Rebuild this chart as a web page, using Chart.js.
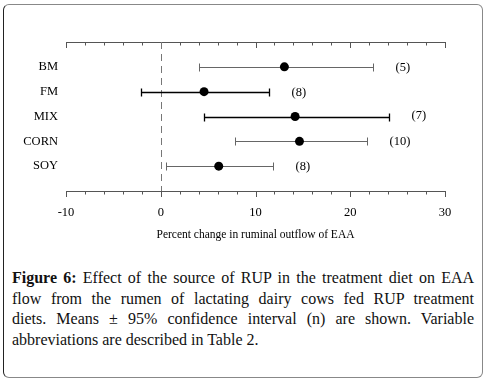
<!DOCTYPE html>
<html>
<head>
<meta charset="utf-8">
<script src="https://cdn.jsdelivr.net/npm/chart.js@4.4.1/dist/chart.umd.min.js"></script>
<style>
  html, body { margin: 0; padding: 0; background: #fff; }
  body { width: 487px; height: 381px; position: relative; overflow: hidden; }
  #frame {
    position: absolute; left: 3px; top: 4px; width: 478px; height: 372px;
    border: 1px solid #888; border-left-color: #222; border-radius: 6px;
    z-index: 5; pointer-events: none;
  }
  #wrap { position: absolute; left: 0; top: 0; width: 487px; height: 250px; }
  #caption {
    position: absolute; left: 12px; top: 268px; width: 462px;
    font-family: "Liberation Serif", "DejaVu Serif", serif;
    font-size: 16px; line-height: 20.5px; color: #111;
  }
  #caption div { text-align: justify; text-align-last: justify; }
  #caption div.last { text-align-last: left; }
</style>
</head>
<body>
<div id="frame"></div>
<div id="wrap"><canvas id="chart_ruminalOutflow"></canvas></div>
<div id="caption">
  <div><b>Figure 6:</b> Effect of the source of RUP in the treatment diet on EAA</div>
  <div>flow from the rumen of lactating dairy cows fed RUP treatment</div>
  <div>diets. Means ± 95% confidence interval (n) are shown. Variable</div>
  <div class="last">abbreviations are described in Table 2.</div>
</div>
<script>
// RUP sources, top to bottom
var categories = ['BM', 'FM', 'MIX', 'CORN', 'SOY'];
var means = [13.05, 4.57, 14.18, 14.64, 6.12];
var lower = [4.08, -2.1, 4.57, 7.85, 0.56];
var upper = [22.35, 11.47, 24.14, 21.75, 11.83];
var counts = [5, 8, 7, 10, 8];
var xTicks = [-10, 0, 10, 20, 30];
var barColors = ['#666', '#000', '#000', '#666', '#666'];

var serif = '"Liberation Serif", "Times New Roman", serif';

var points = means.map(function(m, i) { return {x: m, y: i + 1}; });

var chart_ruminalOutflow = new Chart(document.getElementById('chart_ruminalOutflow'), {
    type: 'scatter',
    data: {
        datasets: [
            {
                label: 'Mean',
                data: points,
                pointRadius: 4.5,
                pointHoverRadius: 4.5,
                pointBackgroundColor: '#000',
                pointBorderColor: '#000',
                borderWidth: 0
            }
        ]
    },
    options: {
        animation: false,
        responsive: true,
        maintainAspectRatio: false,
        layout: {
            padding: {top: 42, right: 42, left: 0, bottom: 0}
        },
        plugins: {
            legend: {display: false},
            tooltip: {enabled: false}
        },
        scales: {
            x: {
                type: 'linear',
                min: -10,
                max: 30,
                afterFit: function(scale) { scale.height = 59; },
                grid: {display: false, drawTicks: false},
                border: {display: false},
                ticks: {
                    stepSize: 10,
                    padding: 14,
                    maxRotation: 0,
                    autoSkip: false,
                    color: '#000',
                    font: {family: serif, size: 12.5},
                    callback: function(value) {
                        return xTicks.indexOf(value) >= 0 ? String(value) : '';
                    }
                },
                title: {
                    display: true,
                    text: 'Percent change in ruminal outflow of EAA',
                    color: '#000',
                    font: {family: serif, size: 11.5},
                    padding: {top: 0, bottom: 8}
                }
            },
            y: {
                type: 'linear',
                min: 0,
                max: 6,
                reverse: true,
                afterFit: function(scale) { scale.width = 66; },
                grid: {display: false, drawTicks: false},
                border: {display: false},
                ticks: {
                    stepSize: 1,
                    padding: 8,
                    color: '#000',
                    font: {family: serif, size: 12.5},
                    callback: function(value) {
                        return categories[value - 1] || '';
                    }
                }
            }
        }
    },
    plugins: [{
        id: 'forestFrame',
        beforeDatasetsDraw: function(chart) {
            var ctx = chart.ctx;
            var xs = chart.scales.x, ys = chart.scales.y;
            var area = chart.chartArea;
            ctx.save();
            // axis lines top and bottom
            ctx.strokeStyle = '#555';
            ctx.lineWidth = 1;
            [area.top, area.bottom].forEach(function(yy) {
                ctx.beginPath();
                ctx.moveTo(area.left, Math.round(yy) + 0.5);
                ctx.lineTo(area.right, Math.round(yy) + 0.5);
                ctx.stroke();
            });
            // tick marks every 2 units, longer at labelled values
            for (var v = -10; v <= 30; v += 2) {
                var px = Math.round(xs.getPixelForValue(v)) + 0.5;
                var len = (v % 10 === 0) ? 6 : 3.5;
                ctx.beginPath();
                ctx.moveTo(px, Math.round(area.top));
                ctx.lineTo(px, Math.round(area.top) + len);
                ctx.moveTo(px, Math.round(area.bottom));
                ctx.lineTo(px, Math.round(area.bottom) + len);
                ctx.stroke();
            }
            // dashed zero line
            var zx = Math.round(xs.getPixelForValue(0)) + 0.5;
            ctx.strokeStyle = '#777';
            ctx.setLineDash([7, 5]);
            ctx.beginPath();
            ctx.moveTo(zx, area.top);
            ctx.lineTo(zx, area.bottom);
            ctx.stroke();
            ctx.setLineDash([]);
            // confidence intervals
            for (var i = 0; i < categories.length; i++) {
                var y = Math.round(ys.getPixelForValue(i + 1)) + 0.5;
                var x1 = Math.round(xs.getPixelForValue(lower[i])) + 0.5;
                var x2 = Math.round(xs.getPixelForValue(upper[i])) + 0.5;
                ctx.strokeStyle = barColors[i];
                ctx.lineWidth = barColors[i] === '#000' ? 1.3 : 1;
                ctx.beginPath();
                ctx.moveTo(x1, y);
                ctx.lineTo(x2, y);
                ctx.moveTo(x1, y - 4);
                ctx.lineTo(x1, y + 4);
                ctx.moveTo(x2, y - 4);
                ctx.lineTo(x2, y + 4);
                ctx.stroke();
                // sample size label
                ctx.fillStyle = '#000';
                ctx.font = '12.5px ' + serif;
                ctx.textAlign = 'left';
                ctx.textBaseline = 'middle';
                ctx.fillText('(' + counts[i] + ')', x2 + 22, y - (i === 2 ? 2 : 0));
            }
            ctx.restore();
        }
    }]
});
</script>
</body>
</html>
